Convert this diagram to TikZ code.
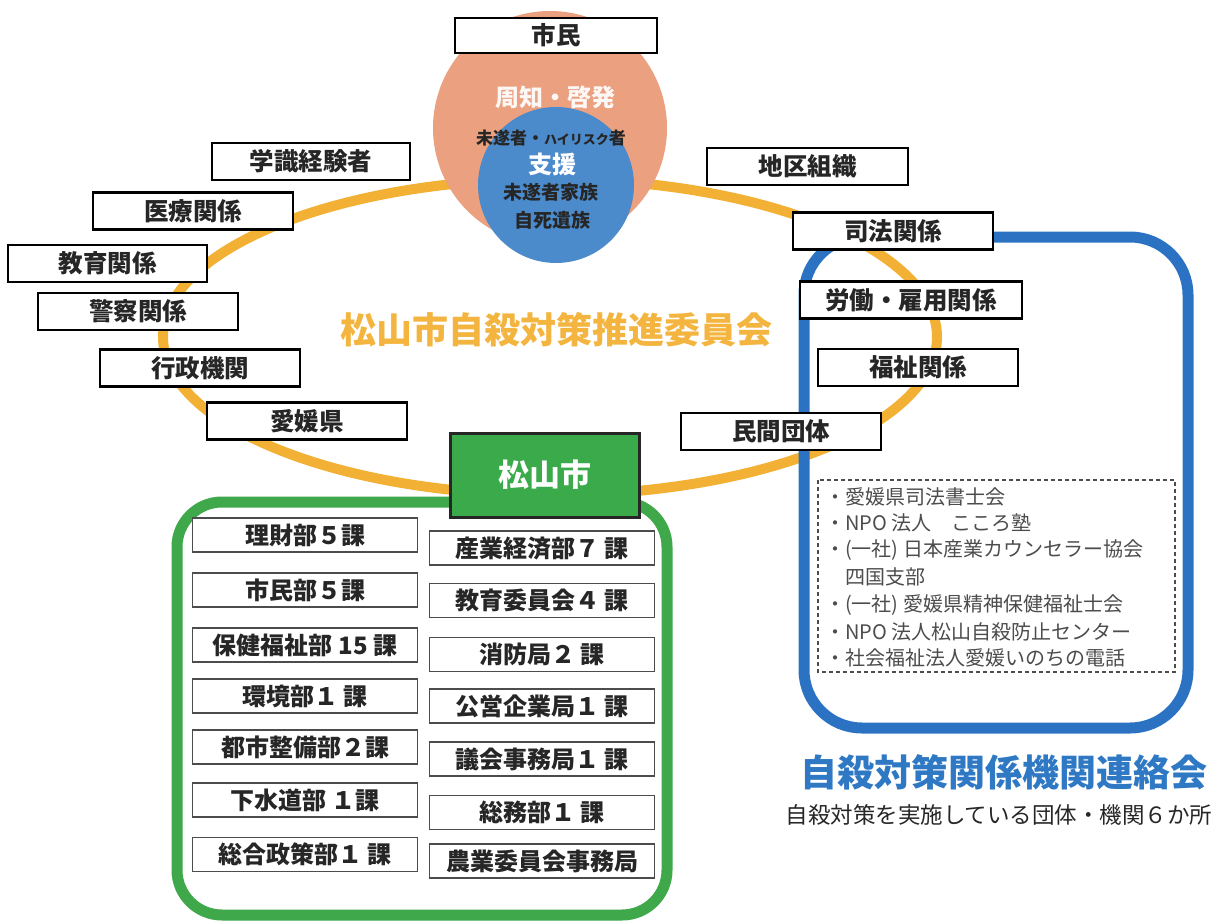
\documentclass[tikz,border=0pt]{standalone}
\usepackage{fontspec}
\setmainfont{Noto Sans CJK JP}
\definecolor{ringorange}{HTML}{F2B134}
\definecolor{salmon}{HTML}{EBA07F}
\definecolor{circblue}{HTML}{4C8BCB}
\definecolor{rectblue}{HTML}{2B73C2}
\definecolor{rectgreen}{HTML}{3EA84A}
\definecolor{cityGreen}{HTML}{3AAA4A}
\definecolor{titleorange}{HTML}{F4B540}
\definecolor{titleblue}{HTML}{2F78C4}
\definecolor{ink}{HTML}{262626}
\tikzset{
  lbl/.style={draw=black, line width=2.2pt, fill=white, text=ink, minimum width=200pt, minimum height=37pt, inner sep=0pt, font=\fontsize{24.5}{24.5}\selectfont\bfseries},
  dept/.style={draw=black!70, line width=1.6pt, fill=white, text=ink, minimum width=225pt, minimum height=34pt, inner sep=0pt, font=\fontsize{24}{24}\selectfont\bfseries},
  listitem/.style={anchor=west, inner sep=0pt, text=black!70, font=\fontsize{20}{20}\selectfont},
}
\begin{document}
\begin{tikzpicture}[x=1pt,y=-1pt]
\useasboundingbox (0,0) rectangle (1224,923);
% committee ring
\draw[ringorange, line width=10pt] (550,337) ellipse [x radius=387, y radius=158];
% liaison council frame
\draw[rectblue, line width=11pt, rounded corners=58pt] (804,237) rectangle (1188,728);
% city frame
\draw[rectgreen, line width=11pt, rounded corners=45pt] (177,502) rectangle (667,915);
% circles
\fill[salmon] (550,128) circle [radius=117];
\fill[circblue] (556,185) circle [radius=78];
\node[text=white!92!salmon, font=\fontsize{24}{24}\selectfont\bfseries] (shuchi) at (555,97) {周知・啓発};
\node[text=ink, font=\fontsize{17}{17}\selectfont\bfseries] (misui) at (551,138) {未遂者・{\fontsize{13}{13}\selectfont ハイリスク}者};
\node[text=white, font=\fontsize{24}{24}\selectfont\bfseries] (shien) at (552,164) {支援};
\node[text=ink, font=\fontsize{19}{19}\selectfont\bfseries] (kazoku) at (551,192) {未遂者家族};
\node[text=ink, font=\fontsize{19}{19}\selectfont\bfseries] (izoku) at (552,220) {自死遺族};
% committee title
\node[text=titleorange, font=\fontsize{36}{36}\selectfont\bfseries] (iinkai) at (556,330) {松山市自殺対策推進委員会};
% member labels
\node[lbl, minimum width=202pt, minimum height=35pt] (shimin) at (556,35.5) {市民};
\node[lbl, minimum width=198pt] (gakushiki) at (311,161.5) {学識経験者};
\node[lbl] (iryo) at (193,211) {医療関係};
\node[lbl, minimum width=199pt] (kyoiku) at (107.5,263.5) {教育関係};
\node[lbl] (keisatsu) at (138,311.5) {警察関係};
\node[lbl] (gyosei) at (200,368) {行政機関};
\node[lbl] (ehime) at (307,421) {愛媛県};
\node[lbl, minimum width=201pt] (chiku) at (807.5,166.5) {地区組織};
\node[lbl] (shiho) at (893,231) {司法関係};
\node[lbl, minimum width=222pt] (rodo) at (911,300) {労働・雇用関係};
\node[lbl] (fukushi) at (918,367.5) {福祉関係};
\node[lbl] (minkan) at (781,431.5) {民間団体};
% city box
\node[draw=black!85, line width=3pt, fill=cityGreen, text=white, minimum width=189pt, minimum height=84pt, inner sep=0pt, font=\fontsize{31}{31}\selectfont\bfseries] (city) at (544.5,475) {松山市};
% departments, left column
\node[dept] (d1) at (305,535) {理財部５課};
\node[dept] (d2) at (305,590) {市民部５課};
\node[dept] (d3) at (305,645) {保健福祉部 15 課};
\node[dept] (d4) at (305,696) {環境部１ 課};
\node[dept] (d5) at (305,747) {都市整備部２課};
\node[dept] (d6) at (305,800) {下水道部 １課};
\node[dept] (d7) at (305,854.5) {総合政策部１ 課};
% departments, right column
\node[dept] (e1) at (542,548) {産業経済部７ 課};
\node[dept] (e2) at (542,600.5) {教育委員会４ 課};
\node[dept] (e3) at (542,654.5) {消防局２ 課};
\node[dept] (e4) at (542,706) {公営企業局１ 課};
\node[dept] (e5) at (542,759) {議会事務局１ 課};
\node[dept] (e6) at (542,812.5) {総務部１ 課};
\node[dept] (e7) at (542,861) {農業委員会事務局};
% organisations list
\draw[black!70, line width=1.5pt, dashed, dash pattern=on 4pt off 3pt] (818,480) rectangle (1175,672);
\node[listitem] (o1) at (825,497) {・愛媛県司法書士会};
\node[listitem] (o2) at (825,523) {・NPO 法人　こころ塾};
\node[listitem] (o3) at (825,550) {・(一社) 日本産業カウンセラー協会};
\node[listitem] (o3b) at (845,577) {四国支部};
\node[listitem] (o4) at (825,605) {・(一社) 愛媛県精神保健福祉士会};
\node[listitem] (o5) at (825,632) {・NPO 法人松山自殺防止センター};
\node[listitem] (o6) at (825,658) {・社会福祉法人愛媛いのちの電話};
% council title
\node[text=titleblue, font=\fontsize{37}{37}\selectfont\bfseries] (renraku) at (1004,772) {自殺対策関係機関連絡会};
\node[text=ink, font=\fontsize{22.5}{22.5}\selectfont] (sub) at (999,815) {自殺対策を実施している団体・機関６か所};
\end{tikzpicture}
\end{document}
